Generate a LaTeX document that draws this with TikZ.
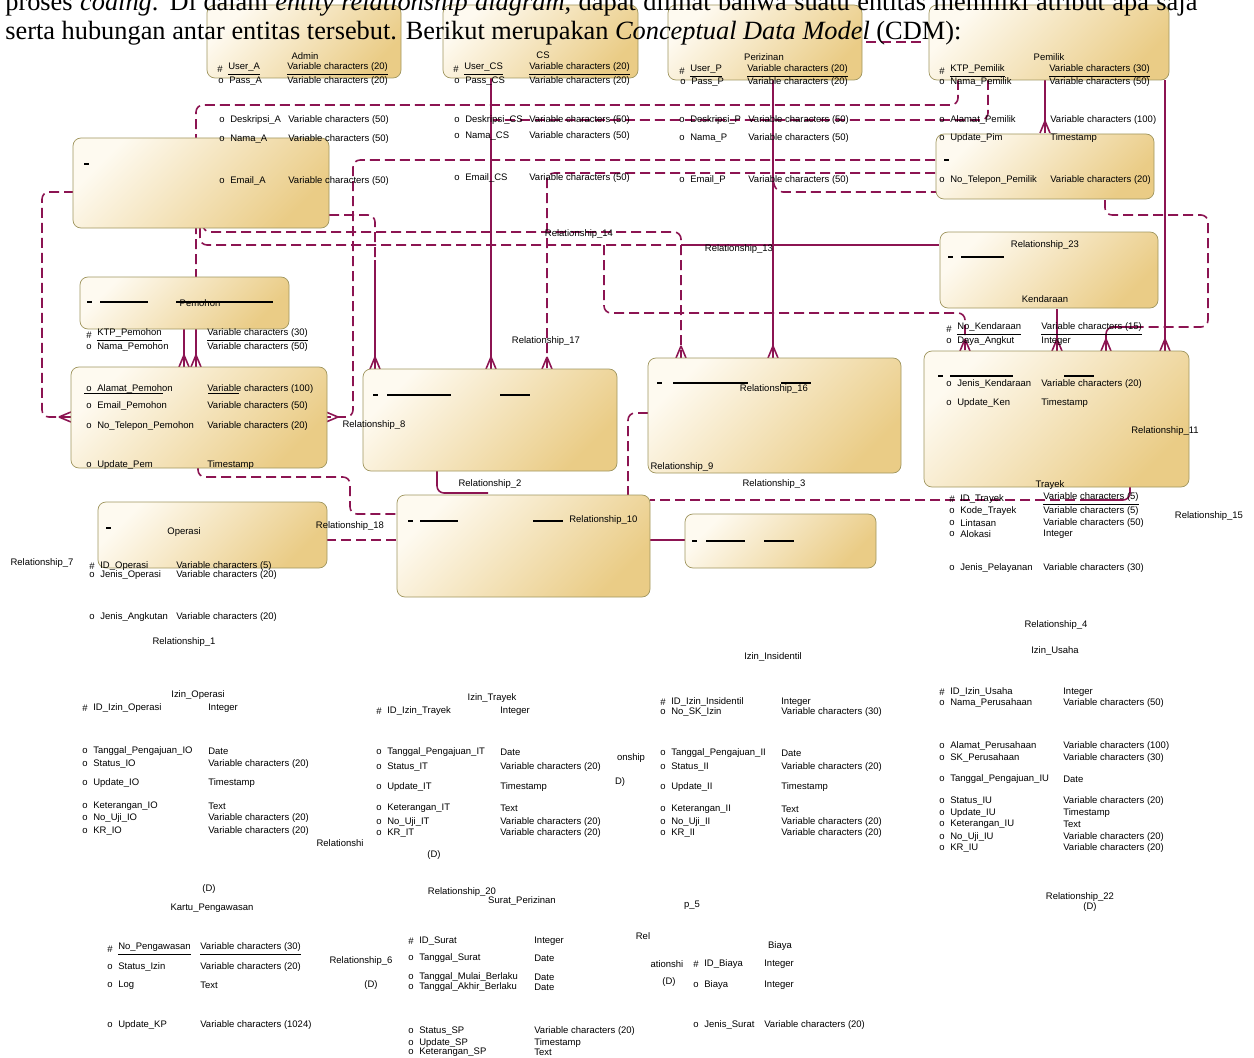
\documentclass[tikz,border=0pt]{standalone}
\usepackage{fontspec}
\setmainfont{Liberation Serif}
\newfontfamily\erdfont{Liberation Sans}
\usetikzlibrary{fit}

\definecolor{relcol}{RGB}{140,20,82}
\definecolor{boxlight}{RGB}{254,250,240}
\definecolor{boxdark}{RGB}{234,204,134}
\definecolor{boxline}{RGB}{160,150,95}

\tikzset{
  ent/.style={draw=boxline, rounded corners=1.6mm, top color=boxlight, bottom color=boxdark, shading angle=45, inner sep=0pt},
  reld/.style={draw=relcol, line width=0.9pt, dash pattern=on 2mm off 1mm},
  rels/.style={draw=relcol, line width=0.9pt},
  lbl/.style={font=\erdfont\fontsize{5.4}{6}\selectfont, inner sep=0pt},
  toptxt/.style={font=\rmfamily\fontsize{15}{17}\selectfont, inner sep=0pt}
}

% one attribute row: y, x of marker, marker, name, x of type, type
\newcommand{\erdrow}[6]{%
  \node[lbl, anchor=west] at (#2,#1) {#3};
  \node[lbl, anchor=west] at ({#2+11},#1) {#4};
  \node[lbl, anchor=west] at (#5,#1) {#6};}
% crow's feet
\newcommand{\crowS}[2]{\draw[rels] ({#1},{#2-12}) -- ({#1-5},{#2}) ({#1},{#2-12}) -- ({#1+5},{#2});}
\newcommand{\crowL}[2]{\draw[rels] ({#1-12},{#2}) -- ({#1},{#2-5}) ({#1-12},{#2}) -- ({#1},{#2+5});}
\newcommand{\crowR}[2]{\draw[rels] ({#1+12},{#2}) -- ({#1},{#2-5}) ({#1+12},{#2}) -- ({#1},{#2+5});}
% black stubs inside the boxes
\newcommand{\stub}[3]{\draw[black, line width=0.7pt] ({#1},{#3}) -- ({#2},{#3});}

\begin{document}
\begin{tikzpicture}[x=0.2mm, y=-0.2mm]
  \useasboundingbox (0,0) rectangle (1254,1058);
  \clip (0,0) rectangle (1254,1058);

  % relationship lines
  \draw[reld, rounded corners=4] (958,80) -- (958,105) -- (196,105) -- (196,278);
  \draw[rels] (196,328) -- (196,367);
  \draw[rels] (184,328) -- (184,367);
  \draw[reld, rounded corners=4] (988,80) -- (988,120) -- (493,120);
  \draw[reld, rounded corners=4] (935,160) -- (353,160) -- (353,417) -- (326,417);
  \draw[reld, rounded corners=4] (935,173) -- (547,173) -- (547,369);
  \draw[reld, rounded corners=4] (773,180) -- (776,192) -- (936,192);
  \draw[reld, rounded corners=4] (329,215) -- (375,215) -- (375,260);
  \draw[rels] (375,260) -- (375,369);
  \draw[reld, rounded corners=4] (203,228) -- (203,232) -- (681,232) -- (681,358);
  \draw[reld, rounded corners=4] (200,228) -- (200,245) -- (685,245);
  \draw[rels] (685,245) -- (939,245);
  \draw[reld, rounded corners=4] (604,245) -- (604,313) -- (965,313) -- (965,351);
  \draw[rels] (1045,80) -- (1045,133);
  \draw[rels] (1165,80) -- (1165,351);
  \draw[reld, rounded corners=4] (1105,200) -- (1105,215) -- (1208,215) -- (1208,327) -- (1142,327);
  \draw[rels, rounded corners=4] (1142,327) -- (1106,327) -- (1106,351);
  \draw[rels] (1057,309) -- (1057,351);
  \draw[rels] (773,80) -- (773,358);
  \draw[rels] (491,78) -- (491,369);
  \draw[rels, rounded corners=4] (1130,487) -- (1130,500) -- (1090,500);
  \draw[reld] (1090,500) -- (650,500);
  \draw[reld, rounded corners=4] (648,413) -- (628,413) -- (628,495);
  \draw[rels, rounded corners=4] (437,470) -- (437,493) -- (488,493);
  \draw[reld, rounded corners=4] (198,467) -- (198,477) -- (350,477) -- (350,514) -- (397,514);
  \draw[reld] (326,540) -- (397,540);
  \draw[rels] (650,540) -- (685,540);
  \draw[reld, rounded corners=4] (71,417) -- (42,417) -- (42,192) -- (73,192);
  \draw[reld] (866,42) -- (926,42);

  \crowS{196}{367} \crowS{184}{367} \crowS{375}{369} \crowS{491}{369}
  \crowS{547}{369} \crowS{681}{358} \crowS{773}{358} \crowS{1045}{133}
  \crowS{965}{351} \crowS{1057}{351} \crowS{1106}{351} \crowS{1165}{351}
  \crowL{71}{417} \crowR{326}{417}

  % entities
  \node[ent, fit={(207,5) (401,78)}] (admin) {};
  \node[ent, fit={(443,5) (638,78)}] (cs) {};
  \node[ent, fit={(668,5) (862,80)}] (perizinan) {};
  \node[ent, fit={(929,5) (1169,80)}] (pemilik) {};
  \node[ent, fit={(73,138) (329,228)}] (akun) {};
  \node[ent, fit={(936,134) (1154,199)}] (pemilikb) {};
  \node[ent, fit={(940,232) (1158,308)}] (kendaraan) {};
  \node[ent, fit={(924,351) (1189,487)}] (trayek) {};
  \node[ent, fit={(80,277) (289,329)}] (pemohon) {};
  \node[ent, fit={(71,367) (327,468)}] (pemohonb) {};
  \node[ent, fit={(363,369) (617,471)}] (relA) {};
  \node[ent, fit={(648,358) (901,473)}] (relB) {};
  \node[ent, fit={(98,502) (327,568)}] (operasi) {};
  \node[ent, fit={(397,495) (650,597)}] (relC) {};
  \node[ent, fit={(685,514) (876,568)}] (relD) {};

  % stubs inside boxes
  \stub{84}{89}{164}
  \stub{944}{949}{160}
  \stub{948}{953}{257} \stub{961}{1004}{257}
  \stub{938}{943}{376} \stub{950}{1013}{376} \stub{1064}{1094}{376}
  \stub{87}{92}{302} \stub{100}{148}{302} \stub{176}{273}{302}
  \stub{373}{378}{395} \stub{387}{451}{395} \stub{500}{530}{395}
  \stub{657}{662}{383} \stub{673}{748}{383} \stub{781}{811}{383}
  \stub{106}{111}{528}
  \stub{408}{413}{521} \stub{420}{458}{521} \stub{533}{563}{521}
  \stub{692}{697}{541} \stub{706}{745}{541} \stub{764}{794}{541}

  % titles and labels
  \node[lbl] (tAdmin) at (305,56) {Admin};
  \node[lbl] (tCS) at (543,55) {CS};
  \node[lbl] (tPerizinan) at (764,57) {Perizinan};
  \node[lbl] (tPemilik) at (1049,57) {Pemilik};
  \node[lbl] (tKendaraan) at (1045,299) {Kendaraan};
  \node[lbl] (tTrayek) at (1050,485) {Trayek};
  \node[lbl] (tPemohon) at (200,303) {Pemohon};
  \node[lbl] (tOperasi) at (184,532) {Operasi};
  \node[lbl] (tIO) at (198,695) {Izin\_Operasi};
  \node[lbl] (tIT) at (492,698) {Izin\_Trayek};
  \node[lbl] (tII) at (773,657) {Izin\_Insidentil};
  \node[lbl] (tIU) at (1055,651) {Izin\_Usaha};
  \node[lbl] (tKP) at (212,908) {Kartu\_Pengawasan};
  \node[lbl] (tSP) at (522,901) {Surat\_Perizinan};
  \node[lbl] (tBiaya) at (780,946) {Biaya};

  \node[lbl] (r23) at (1045,245) {Relationship\_23};
  \node[lbl] (r14) at (579,234) {Relationship\_14};
  \node[lbl] (r13) at (739,249) {Relationship\_13};
  \node[lbl] (r17) at (546,341) {Relationship\_17};
  \node[lbl] (r8) at (374,425) {Relationship\_8};
  \node[lbl] (r16) at (774,389) {Relationship\_16};
  \node[lbl] (r9) at (682,467) {Relationship\_9};
  \node[lbl] (r3) at (774,484) {Relationship\_3};
  \node[lbl] (r2) at (490,484) {Relationship\_2};
  \node[lbl] (r11) at (1165,431) {Relationship\_11};
  \node[lbl] (r15) at (1209,516) {Relationship\_15};
  \node[lbl] (r18) at (350,526) {Relationship\_18};
  \node[lbl, anchor=west] (r10) at (569,520) {Relationship\_10};
  \node[lbl] (r7) at (42,563) {Relationship\_7};
  \node[lbl] (r1) at (184,642) {Relationship\_1};
  \node[lbl] (r4) at (1056,625) {Relationship\_4};
  \node[lbl] (r22) at (1080,897) {Relationship\_22};
  \node[lbl] (d22) at (1090,907) {(D)};
  \node[lbl] (r20) at (462,892) {Relationship\_20};
  \node[lbl] (r6) at (361,961) {Relationship\_6};
  \node[lbl] (d6) at (371,985) {(D)};
  \node[lbl] (dKP) at (209,889) {(D)};
  \node[lbl] (rTrunc) at (340,843) {Relationshi};
  \node[lbl] (dIT) at (434,855) {(D)};
  \node[lbl] (rOn) at (631,758) {onship};
  \node[lbl] (dOn) at (620,782) {D)};
  \node[lbl] (r5) at (692,905) {p\_5};
  \node[lbl] (rRel) at (643,936) {Rel};
  \node[lbl] (rAt) at (667,964) {ationshi};
  \node[lbl] (dAt) at (669,982) {(D)};

  % attributes
  \erdrow{69}{217}{\#}{\underline{User\_A}}{287}{\underline{Variable characters (20)}}
  \erdrow{81}{218}{o}{Pass\_A}{287}{Variable characters (20)}
  \erdrow{69}{453}{\#}{\underline{User\_CS}}{529}{\underline{Variable characters (20)}}
  \erdrow{81}{454}{o}{Pass\_CS}{529}{Variable characters (20)}
  \erdrow{71}{679}{\#}{\underline{User\_P}}{747}{\underline{Variable characters (20)}}
  \erdrow{82}{680}{o}{Pass\_P}{747}{Variable characters (20)}
  \erdrow{71}{939}{\#}{\underline{KTP\_Pemilik}}{1049}{\underline{Variable characters (30)}}
  \erdrow{82}{939}{o}{Nama\_Pemilik}{1049}{Variable characters (50)}

  \erdrow{120}{219}{o}{Deskripsi\_A}{288}{Variable characters (50)}
  \erdrow{139}{219}{o}{Nama\_A}{288}{Variable characters (50)}
  \erdrow{181}{219}{o}{Email\_A}{288}{Variable characters (50)}
  \erdrow{120}{454}{o}{Deskripsi\_CS}{529}{Variable characters (50)}
  \erdrow{136}{454}{o}{Nama\_CS}{529}{Variable characters (50)}
  \erdrow{178}{454}{o}{Email\_CS}{529}{Variable characters (50)}
  \erdrow{120}{679}{o}{Deskripsi\_P}{748}{Variable characters (50)}
  \erdrow{138}{679}{o}{Nama\_P}{748}{Variable characters (50)}
  \erdrow{180}{679}{o}{Email\_P}{748}{Variable characters (50)}
  \erdrow{120}{939}{o}{Alamat\_Pemilik}{1050}{Variable characters (100)}
  \erdrow{138}{939}{o}{Update\_Pim}{1050}{Timestamp}
  \erdrow{180}{939}{o}{No\_Telepon\_Pemilik}{1050}{Variable characters (20)}

  \erdrow{329}{946}{\#}{\underline{No\_Kendaraan}}{1041}{\underline{Variable characters (15)}}
  \erdrow{341}{946}{o}{Daya\_Angkut}{1041}{Integer}
  \erdrow{384}{946}{o}{Jenis\_Kendaraan}{1041}{Variable characters (20)}
  \erdrow{403}{946}{o}{Update\_Ken}{1041}{Timestamp}
  \erdrow{499}{949}{\#}{ID\_Trayek}{1043}{\underline{Variable characters (5)}}
  \erdrow{511}{949}{o}{Kode\_Trayek}{1043}{Variable characters (5)}
  \erdrow{523}{949}{o}{Lintasan}{1043}{Variable characters (50)}
  \erdrow{534}{949}{o}{Alokasi}{1043}{Integer}
  \erdrow{568}{949}{o}{Jenis\_Pelayanan}{1043}{Variable characters (30)}

  \erdrow{335}{86}{\#}{\underline{KTP\_Pemohon}}{207}{\underline{Variable characters (30)}}
  \erdrow{347}{86}{o}{Nama\_Pemohon}{207}{Variable characters (50)}
  \erdrow{389}{86}{o}{Alamat\_Pemohon}{207}{Variable characters (100)}
  \draw[black, line width=0.4pt] (84,393) -- (163,393) (208,393) -- (239,393);
  \erdrow{406}{86}{o}{Email\_Pemohon}{207}{Variable characters (50)}
  \erdrow{426}{86}{o}{No\_Telepon\_Pemohon}{207}{Variable characters (20)}
  \erdrow{465}{86}{o}{Update\_Pem}{207}{Timestamp}

  \erdrow{566}{89}{\#}{ID\_Operasi}{176}{Variable characters (5)}
  \erdrow{575}{89}{o}{Jenis\_Operasi}{176}{Variable characters (20)}
  \erdrow{617}{89}{o}{Jenis\_Angkutan}{176}{Variable characters (20)}

  \erdrow{708}{82}{\#}{ID\_Izin\_Operasi}{208}{Integer}
  \erdrow{751}{82}{o}{Tanggal\_Pengajuan\_IO}{208}{Date}
  \erdrow{764}{82}{o}{Status\_IO}{208}{Variable characters (20)}
  \erdrow{783}{82}{o}{Update\_IO}{208}{Timestamp}
  \erdrow{806}{82}{o}{Keterangan\_IO}{208}{Text}
  \erdrow{818}{82}{o}{No\_Uji\_IO}{208}{Variable characters (20)}
  \erdrow{831}{82}{o}{KR\_IO}{208}{Variable characters (20)}

  \erdrow{711}{376}{\#}{ID\_Izin\_Trayek}{500}{Integer}
  \erdrow{752}{376}{o}{Tanggal\_Pengajuan\_IT}{500}{Date}
  \erdrow{767}{376}{o}{Status\_IT}{500}{Variable characters (20)}
  \erdrow{787}{376}{o}{Update\_IT}{500}{Timestamp}
  \erdrow{808}{376}{o}{Keterangan\_IT}{500}{Text}
  \erdrow{822}{376}{o}{No\_Uji\_IT}{500}{Variable characters (20)}
  \erdrow{833}{376}{o}{KR\_IT}{500}{Variable characters (20)}

  \erdrow{702}{660}{\#}{ID\_Izin\_Insidentil}{781}{Integer}
  \erdrow{712}{660}{o}{No\_SK\_Izin}{781}{Variable characters (30)}
  \erdrow{753}{660}{o}{Tanggal\_Pengajuan\_II}{781}{Date}
  \erdrow{767}{660}{o}{Status\_II}{781}{Variable characters (20)}
  \erdrow{787}{660}{o}{Update\_II}{781}{Timestamp}
  \erdrow{809}{660}{o}{Keterangan\_II}{781}{Text}
  \erdrow{822}{660}{o}{No\_Uji\_II}{781}{Variable characters (20)}
  \erdrow{833}{660}{o}{KR\_II}{781}{Variable characters (20)}

  \erdrow{692}{939}{\#}{ID\_Izin\_Usaha}{1063}{Integer}
  \erdrow{703}{939}{o}{Nama\_Perusahaan}{1063}{Variable characters (50)}
  \erdrow{746}{939}{o}{Alamat\_Perusahaan}{1063}{Variable characters (100)}
  \erdrow{758}{939}{o}{SK\_Perusahaan}{1063}{Variable characters (30)}
  \erdrow{779}{939}{o}{Tanggal\_Pengajuan\_IU}{1063}{Date}
  \erdrow{801}{939}{o}{Status\_IU}{1063}{Variable characters (20)}
  \erdrow{813}{939}{o}{Update\_IU}{1063}{Timestamp}
  \erdrow{824}{939}{o}{Keterangan\_IU}{1063}{Text}
  \erdrow{837}{939}{o}{No\_Uji\_IU}{1063}{Variable characters (20)}
  \erdrow{848}{939}{o}{KR\_IU}{1063}{Variable characters (20)}

  \erdrow{949}{107}{\#}{\underline{No\_Pengawasan}}{200}{\underline{Variable characters (30)}}
  \erdrow{967}{107}{o}{Status\_Izin}{200}{Variable characters (20)}
  \erdrow{985}{107}{o}{Log}{200}{Text}
  \erdrow{1025}{107}{o}{Update\_KP}{200}{Variable characters (1024)}

  \erdrow{941}{408}{\#}{ID\_Surat}{534}{Integer}
  \erdrow{958}{408}{o}{Tanggal\_Surat}{534}{Date}
  \erdrow{977}{408}{o}{Tanggal\_Mulai\_Berlaku}{534}{Date}
  \erdrow{987}{408}{o}{Tanggal\_Akhir\_Berlaku}{534}{Date}
  \erdrow{1031}{408}{o}{Status\_SP}{534}{Variable characters (20)}
  \erdrow{1043}{408}{o}{Update\_SP}{534}{Timestamp}
  \erdrow{1052}{408}{o}{Keterangan\_SP}{534}{Text}

  \erdrow{964}{693}{\#}{ID\_Biaya}{764}{Integer}
  \erdrow{985}{693}{o}{Biaya}{764}{Integer}
  \erdrow{1025}{693}{o}{Jenis\_Surat}{764}{Variable characters (20)}

  % paragraph text above the model
  \node[toptxt, anchor=base west] (para1) at (5,11) {\makebox[238.4mm][s]{proses \textit{coding}. Di dalam \textit{entity relationship diagram}, dapat dilihat bahwa suatu entitas memiliki atribut apa saja}};
  \node[toptxt, anchor=base west] (para2) at (5,40) {serta hubungan antar entitas tersebut. Berikut merupakan \textit{Conceptual Data Model} (CDM):};
\end{tikzpicture}
\end{document}
